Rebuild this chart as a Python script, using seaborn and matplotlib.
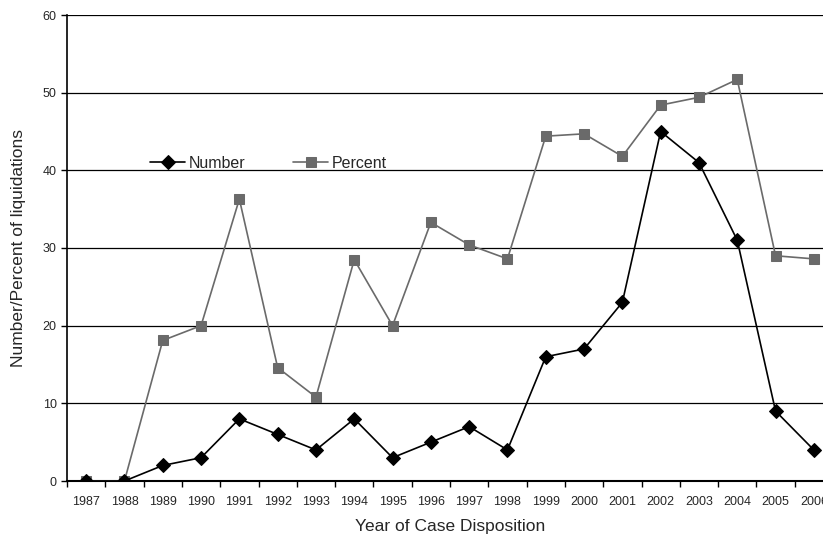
import matplotlib
matplotlib.use("Agg")
import matplotlib.pyplot as plt
import seaborn as sns
import pandas as pd

years = list(range(1987, 2007))
number = [0, 0, 2, 3, 8, 6, 4, 8, 3, 5, 7, 4, 16, 17, 23, 45, 41, 31, 9, 4]
percent = [0, 0, 18.1, 20.0, 36.3, 14.6, 10.8, 28.5, 20.0, 33.3, 30.4, 28.6,
           44.4, 44.7, 41.8, 48.4, 49.4, 51.7, 29.0, 28.6]

sns.set_theme(style="white")
plt.rcParams['font.family'] = ['Liberation Sans', 'DejaVu Sans']

df = pd.DataFrame({"Year": years, "Number": number, "Percent": percent})

fig = plt.figure(figsize=(8.23, 5.38), dpi=100)
ax = fig.add_axes([67/823, 1-481/538, 766/823, 466/538])

sns.lineplot(data=df, x="Year", y="Number", ax=ax, color="black", marker="D",
             markersize=7, markeredgecolor="black", linewidth=1.2, label="Number", zorder=4)
sns.lineplot(data=df, x="Year", y="Percent", ax=ax, color="#6a6a6a", marker="s",
             markersize=7, markeredgecolor="#6a6a6a", linewidth=1.2, label="Percent", zorder=3)

ax.set_xlim(1986.5, 2006.5)
ax.set_ylim(0, 60)
ax.set_yticks(range(0, 61, 10))
ax.set_xticks(years)
ax.set_xticklabels([str(y) for y in years], fontsize=9)
ax.set_xticks([y + 0.5 for y in range(1986, 2007)], minor=True)
ax.tick_params(axis='x', which='major', length=0, pad=11)
ax.tick_params(axis='x', which='minor', length=4, width=1, color='black', direction='out', bottom=True)
ax.tick_params(axis='y', length=4, width=1, color='black', direction='out', left=True, labelsize=9)

ax.yaxis.grid(True, color='black', linewidth=0.9)
ax.xaxis.grid(False)
ax.set_axisbelow(True)
for s in ['top', 'right']:
    ax.spines[s].set_visible(False)
ax.spines['left'].set_color('black')
ax.spines['bottom'].set_color('black')
ax.spines['left'].set_linewidth(1.2)
ax.spines['bottom'].set_linewidth(1.5)

ax.set_xlabel("Year of Case Disposition", fontsize=12.5, labelpad=8)
ax.set_ylabel("Number/Percent of liquidations", fontsize=12.5, labelpad=12)

leg = ax.legend(loc='center left', bbox_to_anchor=(0.09, 0.682), ncol=2, frameon=False,
                fontsize=11.5, columnspacing=3.0, handlelength=2.2, handletextpad=0.2)

fig.savefig("out.png", dpi=100)
